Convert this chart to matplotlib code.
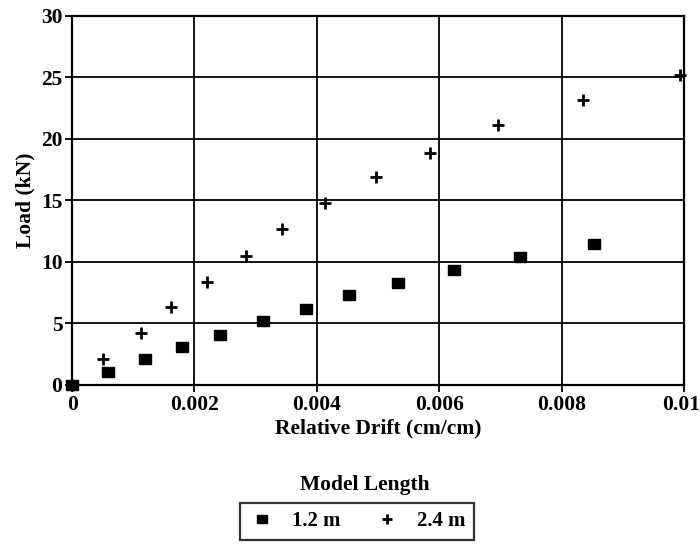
import matplotlib
matplotlib.use("Agg")
import matplotlib.pyplot as plt
import matplotlib.transforms as mtransforms
from matplotlib.ticker import MultipleLocator

plt.rcParams['font.family'] = ['Liberation Serif', 'DejaVu Serif']
plt.rcParams['font.weight'] = 'bold'

# Load vs. relative drift for two model lengths
drift_12 = [0.0, 0.00059, 0.00119, 0.0018, 0.00242, 0.00312, 0.00382, 0.00453,
            0.00533, 0.00624, 0.00732, 0.00853]
load_12 = [0.0, 1.06, 2.1, 3.1, 4.1, 5.2, 6.2, 7.3, 8.3, 9.35, 10.4, 11.5]

drift_24 = [0.0, 0.00051, 0.00113, 0.00161, 0.00221, 0.00284, 0.00343, 0.00413,
            0.00497, 0.00585, 0.00696, 0.00835, 0.00993]
load_24 = [0.0, 2.1, 4.2, 6.3, 8.4, 10.5, 12.7, 14.8, 16.9, 18.9, 21.1, 23.2, 25.2]

series_labels = ['1.2 m', '2.4 m']
x_ticks = [0, 0.002, 0.004, 0.006, 0.008, 0.01]
x_tick_labels = ['0', '0.002', '0.004', '0.006', '0.008', '0.01']

# slightly flattened filled square
rect_marker = [(-1, -0.8), (1, -0.8), (1, 0.8), (-1, 0.8), (-1, -0.8)]

fig = plt.figure(figsize=(7.0, 5.44), dpi=100)
ax = fig.add_axes([0.103, 0.2923, 0.874, 0.6783])

ax.plot(drift_12, load_12, linestyle='none', marker=rect_marker, markersize=9,
        color='black', label=series_labels[0], clip_on=False, zorder=3)
ax.plot(drift_24, load_24, linestyle='none', marker='+', markersize=8,
        markeredgewidth=2.0, color='black', label=series_labels[1],
        clip_on=False, zorder=3)

ax.set_xlim(0, 0.01)
ax.set_ylim(0, 30)
ax.set_xticks(x_ticks)
ax.set_xticklabels(x_tick_labels)
ax.yaxis.set_major_locator(MultipleLocator(5))
ax.grid(True, color='black', linewidth=1.3)
ax.set_axisbelow(True)
for sp in ax.spines.values():
    sp.set_linewidth(1.6)
ax.tick_params(axis='both', direction='out', length=5, width=1.3,
               labelsize=15.5, colors='black', pad=2)
for lab in ax.get_xticklabels() + ax.get_yticklabels():
    lab.set_fontweight('bold')

# nudge the last x tick label inward so it stays within the figure
last = ax.get_xticklabels()[-1]
last.set_transform(last.get_transform() +
                   mtransforms.ScaledTranslation(-3 / 100, 0, fig.dpi_scale_trans))

ax.set_xlabel('Relative Drift (cm/cm)', fontsize=15.5, fontweight='bold', labelpad=3)
ax.set_ylabel('Load (kN)', fontsize=15.5, fontweight='bold', labelpad=4)

fig.text(0.521, 0.1085, 'Model Length', ha='center', va='center',
         fontsize=15.5, fontweight='bold')
leg = fig.legend(loc='center', bbox_to_anchor=(0.51, 0.0414), ncol=2,
                 fontsize=15, frameon=True, fancybox=False, edgecolor='black',
                 handlelength=1.3, handletextpad=0.8, columnspacing=1.6,
                 borderpad=0.4, borderaxespad=0, markerscale=0.85)
leg.get_frame().set_linewidth(1.6)

fig.savefig('out.png', dpi=100)
